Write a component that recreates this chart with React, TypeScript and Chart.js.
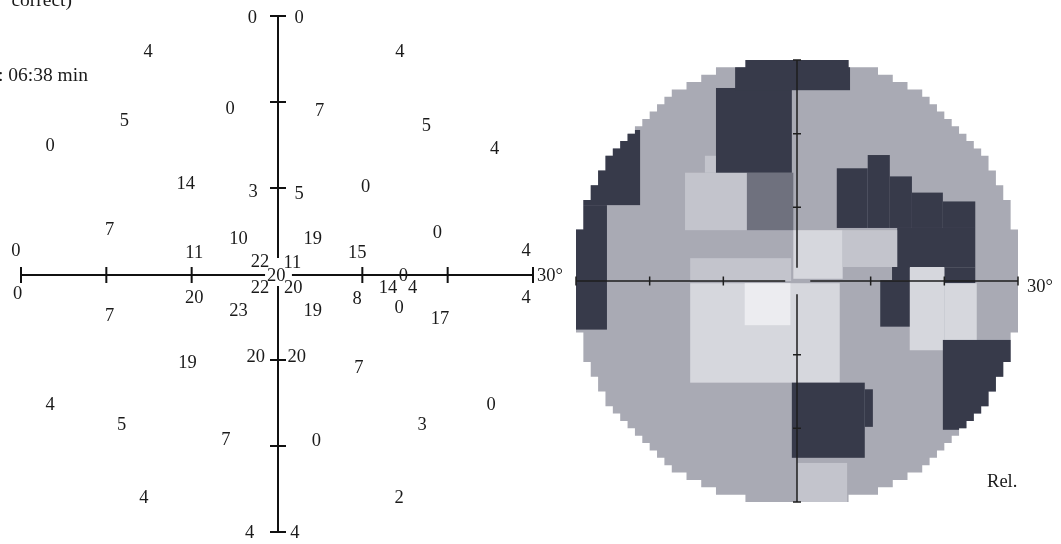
import React, { useEffect, useRef } from "react";
import { Chart, registerables } from "chart.js";

Chart.register(...registerables);

const FONT = '"Liberation Serif", "DejaVu Serif", serif';

// Left panel: threshold values of the visual field test points (degrees)
const fieldValues = [
  0, 0, 4, 4, 0, 7, 5, 5, 0, 4,
  14, 3, 5, 0, 7, 0, 10, 19, 0, 11,
  15, 4, 22, 11, 20, 0, 0, 20, 22, 20,
  14, 4, 8, 4, 7, 23, 19, 0, 17, 19,
  20, 20, 7, 4, 0, 5, 3, 7, 0, 4,
  2, 4, 4,
];
const fieldX = [
  -2.9, 2.6, -15.1, 14.4, -5.5, 5.0, -17.9, 17.5, -26.6, 25.5,
  -10.7, -2.8, 2.6, 10.4, -19.6, 18.8, -4.5, 4.2, -30.6, -9.7,
  9.4, 29.2, -2.0, 1.8, -0.1, 14.8, -30.4, -9.7, -2.0, 1.9,
  13.0, 15.9, 9.4, 29.2, -19.6, -4.5, 4.2, 14.3, 19.1, -10.5,
  -2.5, 2.3, 9.6, -26.6, 25.1, -18.2, 17.0, -6.0, 4.6, -15.6,
  14.3, -3.2, 2.1,
];
const fieldY = [
  29.9, 29.9, 26.0, 26.0, 19.4, 19.1, 18.0, 17.4, 15.1, 14.7,
  10.6, 9.7, 9.5, 10.3, 5.3, 5.0, 4.2, 4.3, 2.8, 2.6,
  2.6, 2.9, 1.6, 1.5, 0.0, 0.0, -2.2, -2.6, -1.5, -1.5,
  -1.4, -1.4, -2.7, -2.6, -4.7, -4.1, -4.1, -3.8, -5.1, -10.2,
  -9.5, -9.5, -10.7, -15.0, -15.0, -17.4, -17.4, -19.1, -19.2, -25.9,
  -25.9, -29.9, -29.9,
];

const axisTicks = [-30, -20, -10, 10, 20, 30];
const axisLabel = "30°";
const fieldGap = { left: -1.4, right: 1.75, top: 1.85, bottom: -1.4 };
const mapGap = { left: -1.6, right: 1.8, top: 1.8, bottom: -1.8 };

const headerTexts = ["correct)", ": 06:38 min"];
const mapLabel = "Rel.";

// Right panel: grey-scale map, levels 0 base grey .. 5 whitest, 1 darkest
const mapPalette = ["#a9aab4", "#373a4a", "#6f717e", "#c3c4cc", "#d6d7dd", "#ececf0"];
// [x0, x1, yTop, yBottom, level] in degrees
const mapBlocks: [number, number, number, number, number][] = [
  [-12.5, -6.8, 17.0, 14.7, 3],
  [-15.2, -6.8, 14.7, 6.9, 3],
  [-6.8, -0.5, 14.7, 6.9, 2],
  [-11.0, -0.7, 26.2, 14.7, 1],
  [-8.4, 7.2, 31.0, 25.9, 1],
  [-31.0, -21.3, 20.5, 10.3, 1],
  [-31.0, -25.8, 10.3, -6.6, 1],
  [5.4, 9.6, 15.3, 7.2, 1],
  [9.6, 12.6, 17.1, 7.2, 1],
  [12.6, 15.6, 14.2, 7.2, 1],
  [15.6, 19.8, 12.0, 7.2, 1],
  [19.8, 24.2, 10.8, 7.2, 1],
  [13.6, 24.2, 7.2, 1.8, 1],
  [20.0, 24.2, 1.8, -0.3, 1],
  [-14.5, -0.8, 3.1, 0.0, 3],
  [-0.5, 6.2, 6.9, 0.3, 4],
  [6.2, 13.6, 6.9, 1.9, 3],
  [-14.5, 5.8, -0.3, -13.8, 4],
  [-7.1, -0.9, -0.3, -6.0, 5],
  [15.3, 20.0, 1.9, -9.4, 4],
  [20.0, 24.4, -0.3, -9.4, 4],
  [11.3, 15.3, 0.1, -6.2, 1],
  [12.9, 15.3, 1.9, 0.1, 1],
  [19.8, 31.0, -8.0, -20.2, 1],
  [-0.7, 9.2, -13.8, -24.0, 1],
  [9.2, 10.3, -14.7, -19.8, 1],
  [0.0, 6.8, -24.7, -31.0, 3],
];
const mapRadius = 30.4;

export default function App() {
  const leftRef = useRef<HTMLCanvasElement>(null);
  const rightRef = useRef<HTMLCanvasElement>(null);

  useEffect(() => {
    document.body.style.margin = "0";

    const fieldPlugin = {
      id: "fieldDraw",
      afterDatasetsDraw(chart: any) {
        const { ctx } = chart;
        const xs = chart.scales.x;
        const ys = chart.scales.y;
        const x0 = xs.getPixelForValue(0) + 1;
        const y0 = ys.getPixelForValue(0) + 1;
        ctx.save();
        ctx.strokeStyle = "#111";
        ctx.lineWidth = 2;
        ctx.beginPath();
        ctx.moveTo(xs.getPixelForValue(-30), y0);
        ctx.lineTo(xs.getPixelForValue(fieldGap.left), y0);
        ctx.moveTo(xs.getPixelForValue(fieldGap.right), y0);
        ctx.lineTo(xs.getPixelForValue(30), y0);
        ctx.moveTo(x0, ys.getPixelForValue(30));
        ctx.lineTo(x0, ys.getPixelForValue(fieldGap.top));
        ctx.moveTo(x0, ys.getPixelForValue(fieldGap.bottom));
        ctx.lineTo(x0, ys.getPixelForValue(-30));
        axisTicks.forEach((t) => {
          const px = xs.getPixelForValue(t);
          ctx.moveTo(px, y0 - 8);
          ctx.lineTo(px, y0 + 8);
          const py = ys.getPixelForValue(t);
          ctx.moveTo(x0 - 8, py);
          ctx.lineTo(x0 + 8, py);
        });
        ctx.stroke();

        ctx.fillStyle = "#1a1a1a";
        ctx.textBaseline = "alphabetic";
        ctx.textAlign = "left";
        ctx.font = `18.5px ${FONT}`;
        ctx.fillText(axisLabel, xs.getPixelForValue(30) + 4, y0 + 6);
        ctx.font = `19.5px ${FONT}`;
        ctx.fillText(headerTexts[1], -2, 81);
        ctx.textAlign = "right";
        ctx.fillText(headerTexts[0], 72, 6);

        ctx.font = `18.5px ${FONT}`;
        ctx.textAlign = "center";
        const meta = chart.getDatasetMeta(0);
        meta.data.forEach((el: any, i: number) => {
          ctx.fillText(String(fieldValues[i]), el.x, el.y + 6.5);
        });
        ctx.restore();
      },
    };

    const mapPlugin = {
      id: "mapDraw",
      afterDatasetsDraw(chart: any) {
        const { ctx } = chart;
        const xs = chart.scales.x;
        const ys = chart.scales.y;
        ctx.save();
        // stepped circular outline
        const rows: [number, number][] = [];
        for (let j = 29; j >= -30; j--) {
          const m = j + 0.5;
          rows.push([j, Math.round(Math.sqrt(Math.max(0, mapRadius * mapRadius - m * m)))]);
        }
        ctx.beginPath();
        rows.forEach(([j, hw], i) => {
          const px = xs.getPixelForValue(hw);
          const yt = ys.getPixelForValue(j + 1);
          const yb = ys.getPixelForValue(j);
          if (i === 0) ctx.moveTo(px, yt);
          else ctx.lineTo(px, yt);
          ctx.lineTo(px, yb);
        });
        for (let i = rows.length - 1; i >= 0; i--) {
          const [j, hw] = rows[i];
          const px = xs.getPixelForValue(-hw);
          ctx.lineTo(px, ys.getPixelForValue(j));
          ctx.lineTo(px, ys.getPixelForValue(j + 1));
        }
        ctx.closePath();
        ctx.clip();
        ctx.fillStyle = mapPalette[0];
        ctx.fillRect(0, 0, chart.width, chart.height);
        mapBlocks.forEach(([a, b, t, btm, lvl]) => {
          const px0 = xs.getPixelForValue(a);
          const px1 = xs.getPixelForValue(b);
          const py0 = ys.getPixelForValue(t);
          const py1 = ys.getPixelForValue(btm);
          ctx.fillStyle = mapPalette[lvl];
          ctx.fillRect(px0, py0, px1 - px0, py1 - py0);
        });
        ctx.restore();

        ctx.save();
        const x0 = xs.getPixelForValue(0);
        const y0 = ys.getPixelForValue(0);
        ctx.strokeStyle = "#1e1e1e";
        ctx.lineWidth = 1.5;
        ctx.beginPath();
        ctx.moveTo(xs.getPixelForValue(-30), y0);
        ctx.lineTo(xs.getPixelForValue(mapGap.left), y0);
        ctx.moveTo(xs.getPixelForValue(mapGap.right), y0);
        ctx.lineTo(xs.getPixelForValue(30), y0);
        ctx.moveTo(x0, ys.getPixelForValue(30));
        ctx.lineTo(x0, ys.getPixelForValue(mapGap.top));
        ctx.moveTo(x0, ys.getPixelForValue(mapGap.bottom));
        ctx.lineTo(x0, ys.getPixelForValue(-30));
        axisTicks.forEach((t) => {
          const px = xs.getPixelForValue(t);
          ctx.moveTo(px, y0 - 4.5);
          ctx.lineTo(px, y0 + 4.5);
          const py = ys.getPixelForValue(t);
          ctx.moveTo(x0 - 4, py);
          ctx.lineTo(x0 + 4, py);
        });
        ctx.stroke();
        ctx.fillStyle = "#1a1a1a";
        ctx.font = `18.5px ${FONT}`;
        ctx.textAlign = "left";
        ctx.textBaseline = "alphabetic";
        ctx.fillText(axisLabel, xs.getPixelForValue(30) + 9, y0 + 11);
        ctx.fillText(mapLabel, xs.getPixelForValue(25.8), ys.getPixelForValue(-27.9));
        ctx.restore();
      },
    };

    const common = {
      responsive: false,
      animation: false as const,
      events: [] as any[],
      plugins: { legend: { display: false }, tooltip: { enabled: false } },
    };

    const c1 = new Chart(leftRef.current!, {
      type: "scatter",
      data: {
        datasets: [
          {
            data: fieldX.map((x, i) => ({ x, y: fieldY[i] })),
            pointRadius: 0,
            showLine: false,
          },
        ],
      },
      options: {
        ...common,
        layout: { padding: { left: 21, right: 67, top: 16, bottom: 12 } },
        scales: {
          x: { type: "linear", min: -30, max: 30, display: false },
          y: { type: "linear", min: -30, max: 30, display: false },
        },
      },
      plugins: [fieldPlugin],
    } as any);

    const c2 = new Chart(rightRef.current!, {
      type: "scatter",
      data: { datasets: [{ data: [], pointRadius: 0 }] },
      options: {
        ...common,
        layout: { padding: { left: 16, right: 43, top: 60, bottom: 42 } },
        scales: {
          x: { type: "linear", min: -30, max: 30, display: false },
          y: { type: "linear", min: -30, max: 30, display: false },
        },
      },
      plugins: [mapPlugin],
    } as any);

    return () => {
      c1.destroy();
      c2.destroy();
    };
  }, []);

  return (
    <div style={{ position: "relative", width: 1061, height: 544, background: "#fff", overflow: "hidden" }}>
      <canvas ref={rightRef} width={501} height={544} style={{ position: "absolute", left: 560, top: 0 }} />
      <canvas ref={leftRef} width={600} height={544} style={{ position: "absolute", left: 0, top: 0 }} />
    </div>
  );
}
